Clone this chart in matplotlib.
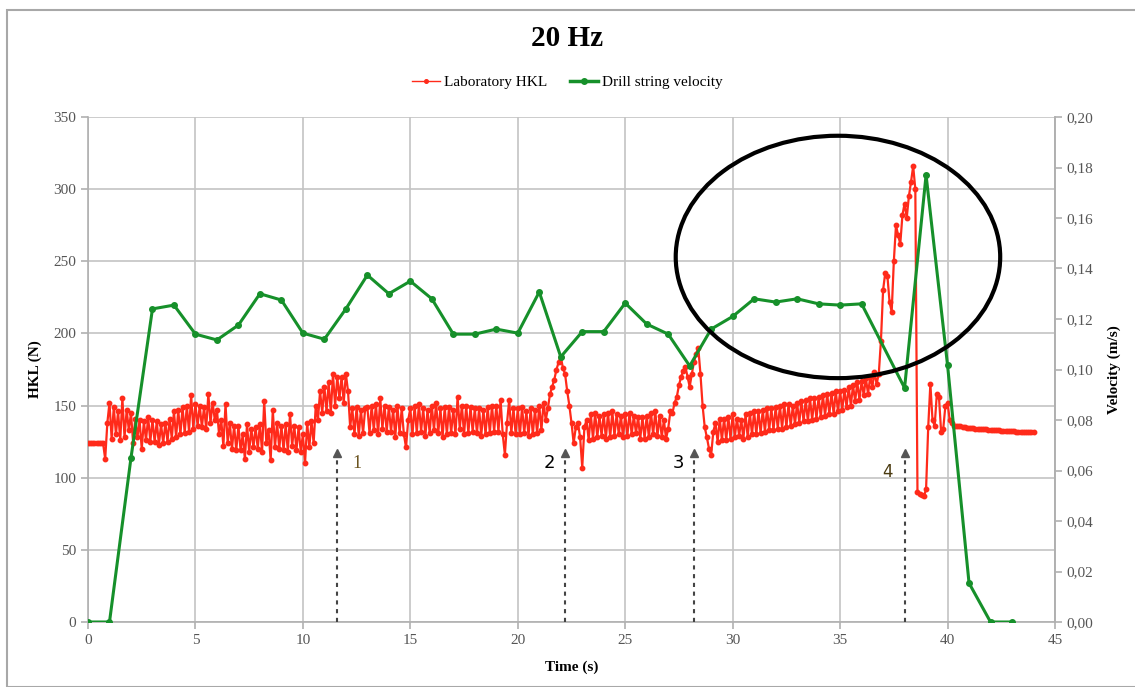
import numpy as np
import matplotlib
matplotlib.use("Agg")
import matplotlib.pyplot as plt
from matplotlib.patches import Ellipse, Rectangle
from matplotlib.lines import Line2D
from matplotlib.ticker import FuncFormatter

plt.rcParams['font.family'] = ['Liberation Serif', 'DejaVu Serif']

# Laboratory hook load (N), sampled every 0.1 s from 0 to 44 s (one row per second)
hkl_t0, hkl_dt = 0.0, 0.1
hkl = [
    124, 124, 124, 124, 124, 124, 124, 124, 113, 138,
    152, 127, 149, 130, 146, 126, 155, 128, 147, 133,
    145, 124, 141, 128, 140, 120, 139, 126, 142, 125,
    140, 125, 139, 123, 137, 124, 138, 125, 141, 127,
    146, 128, 147, 130, 149, 131, 150, 132, 157, 134,
    151, 136, 150, 135, 149, 134, 158, 138, 152, 140,
    147, 130, 140, 122, 151, 124, 138, 120, 136, 119,
    136, 119, 130, 113, 137, 118, 134, 121, 135, 120,
    137, 118, 153, 124, 133, 112, 147, 121, 138, 120,
    136, 119, 137, 118, 144, 122, 136, 119, 135, 118,
    130, 110, 138, 121, 139, 124, 150, 140, 160, 145,
    163, 146, 166, 145, 172, 150, 170, 155, 170, 152,
    172, 160, 135, 148, 130, 149, 129, 147, 131, 148,
    149, 131, 150, 133, 151, 130, 155, 134, 150, 132,
    149, 132, 147, 128, 150, 131, 148, 130, 121, 140,
    148, 130, 150, 131, 151, 132, 148, 129, 147, 131,
    150, 133, 152, 131, 148, 128, 149, 130, 149, 131,
    147, 130, 156, 134, 150, 130, 150, 131, 149, 132,
    148, 131, 148, 129, 147, 130, 149, 131, 150, 132,
    150, 132, 154, 130, 116, 138, 154, 131, 148, 130,
    148, 130, 149, 131, 146, 129, 148, 130, 147, 131,
    150, 133, 152, 140, 148, 158, 163, 168, 175, 180,
    184, 176, 172, 160, 150, 138, 124, 135, 138, 128,
    107, 135, 140, 126, 144, 127, 145, 128, 143, 129,
    144, 127, 145, 128, 146, 129, 144, 130, 143, 128,
    144, 129, 145, 130, 143, 131, 142, 127, 142, 127,
    143, 128, 145, 130, 146, 129, 143, 128, 140, 127,
    134, 146, 145, 152, 156, 164, 170, 174, 177, 170,
    163, 172, 180, 186, 190, 172, 150, 135, 128, 120,
    116, 132, 138, 125, 141, 126, 141, 126, 142, 127,
    144, 128, 141, 129, 140, 127, 144, 128, 145, 130,
    146, 130, 146, 131, 147, 132, 148, 133, 148, 133,
    149, 134, 150, 134, 151, 135, 151, 136, 150, 137,
    152, 138, 153, 139, 154, 139, 155, 140, 155, 141,
    156, 142, 157, 143, 158, 144, 159, 144, 160, 146,
    160, 147, 161, 149, 163, 150, 164, 153, 166, 154,
    167, 157, 169, 158, 170, 163, 173, 165, 172, 195,
    230, 242, 240, 222, 215, 250, 275, 268, 262, 282,
    290, 280, 295, 305, 316, 300, 90, 89, 88, 87,
    92, 135, 165, 140, 136, 158, 156, 132, 134, 150,
    152, 140, 138, 136, 136, 135.8, 135.5, 135.3, 135, 134.8,
    134.5, 134.4, 134.2, 134, 134, 133.9, 133.7, 133.6, 133.5, 133.4,
    133.2, 133.1, 133, 132.9, 132.8, 132.7, 132.6, 132.5, 132.4, 132.3,
    132.2, 132.1, 132, 131.9, 131.8, 131.7, 131.6, 131.6, 131.5, 131.5,
    131.4,
]

# Drill string velocity (m/s)
vel_time = list(range(0, 37)) + [38, 39, 40, 41, 42, 43]
velocity = [0, 0, 0.065, 0.124, 0.1255, 0.114, 0.1117, 0.1176, 0.130, 0.1275,
            0.1144, 0.112, 0.124, 0.1374, 0.130, 0.135, 0.128, 0.114, 0.114, 0.116,
            0.1144, 0.1307, 0.105, 0.115, 0.115, 0.1263, 0.118, 0.114, 0.1014, 0.116,
            0.121, 0.128, 0.1267, 0.128, 0.126, 0.1255, 0.126,
            0.0927, 0.177, 0.1017, 0.0154, 0, 0]

# Event markers
event_time = [11.6, 22.2, 28.2, 38.0]
event_label = ['1', '2', '3', '4']

red = '#ff2a1a'
green = '#16902a'
grid_c = '#c4c4c4'
tick_c = '#555555'

fig = plt.figure(figsize=(11.35, 6.87), dpi=100)
ax = fig.add_axes([88 / 1135, 1 - 622 / 687, (1055 - 88) / 1135, (622 - 117) / 687])
ax2 = ax.twinx()

# Chart area frame
fig.patches.append(Rectangle((7 / 1135, 0), 1.0, 1 - 10 / 687, transform=fig.transFigure,
                             fill=False, edgecolor='#a8a8a8', lw=1.5))

t_hkl = hkl_t0 + hkl_dt * np.arange(len(hkl))
ax.plot(t_hkl, hkl, color=red, lw=1.6, marker='o', ms=3.2, zorder=3)

ax.set_xlim(0, 45)
ax.set_ylim(0, 350)
ax.set_xticks(np.arange(0, 46, 5))
ax.set_yticks(np.arange(0, 351, 50))
ax.grid(True, color=grid_c, lw=1.2)
ax.set_axisbelow(True)
ax.spines['top'].set_visible(False)
for s in ['left', 'bottom', 'right']:
    ax.spines[s].set_color('#b0b0b0')
    ax.spines[s].set_linewidth(1.2)
ax.tick_params(axis='both', colors='#b0b0b0', labelcolor=tick_c, labelsize=11, length=5, width=1.2)
ax.set_xlabel('Time (s)', fontsize=11, fontweight='bold', labelpad=10)
ax.set_ylabel('HKL (N)', fontsize=11, fontweight='bold', labelpad=8)

# Dotted arrows pointing at the events
for t, lab in zip(event_time, event_label):
    ax.plot([t, t], [0, 113], color='#444444', lw=1.5, ls=(0, (2, 2.2)), zorder=4)
    ax.plot(t, 117, marker='^', color='#555555', ms=6, zorder=4)
ax.text(event_time[0] + 0.7, 110, event_label[0], fontsize=13, color='#6b5420',
        ha='left', va='center')
ax.text(event_time[1] - 1.0, 110, event_label[1], fontsize=13, color='black',
        family='DejaVu Sans', ha='left', va='center')
ax.text(event_time[2] - 1.0, 110, event_label[2], fontsize=13, color='black',
        family='DejaVu Sans', ha='left', va='center')
ax.text(event_time[3] - 1.05, 104, event_label[3], fontsize=12, color='#4a3a10',
        family='DejaVu Sans', ha='left', va='center')

ax2.plot(vel_time, velocity, color=green, lw=2.2, marker='o', ms=4, zorder=5)
ax2.set_ylim(0, 0.2)
ax2.set_yticks(np.arange(0, 0.201, 0.02))
ax2.yaxis.set_major_formatter(FuncFormatter(lambda v, p: f'{v:.2f}'.replace('.', ',')))
for s in ['top', 'left', 'bottom']:
    ax2.spines[s].set_visible(False)
ax2.spines['right'].set_color('#b0b0b0')
ax2.spines['right'].set_linewidth(1.2)
ax2.tick_params(axis='y', colors='#b0b0b0', labelcolor=tick_c, labelsize=11, length=5, width=1.2)
ax2.set_ylabel('Velocity (m/s)', fontsize=11, fontweight='bold', labelpad=10)

# Highlighted region
ax2.add_patch(Ellipse((34.9, 253 / 350 * 0.2), 15.1, 168 / 350 * 0.2,
                      fill=False, edgecolor='black', lw=3, zorder=6))

fig.text(0.5, 1 - 38 / 687, '20 Hz', ha='center', va='center', fontsize=21, fontweight='bold')

handles = [Line2D([], [], color=red, lw=1, marker='o', ms=2.6),
           Line2D([], [], color=green, lw=2.5, marker='o', ms=4)]
fig.legend(handles, ['Laboratory HKL', 'Drill string velocity'], loc='center',
           bbox_to_anchor=(0.5, 1 - 82 / 687), ncol=2, frameon=False, fontsize=11,
           handlelength=1.8, handletextpad=0.3, columnspacing=1.5)

fig.savefig('out.png', dpi=100)
